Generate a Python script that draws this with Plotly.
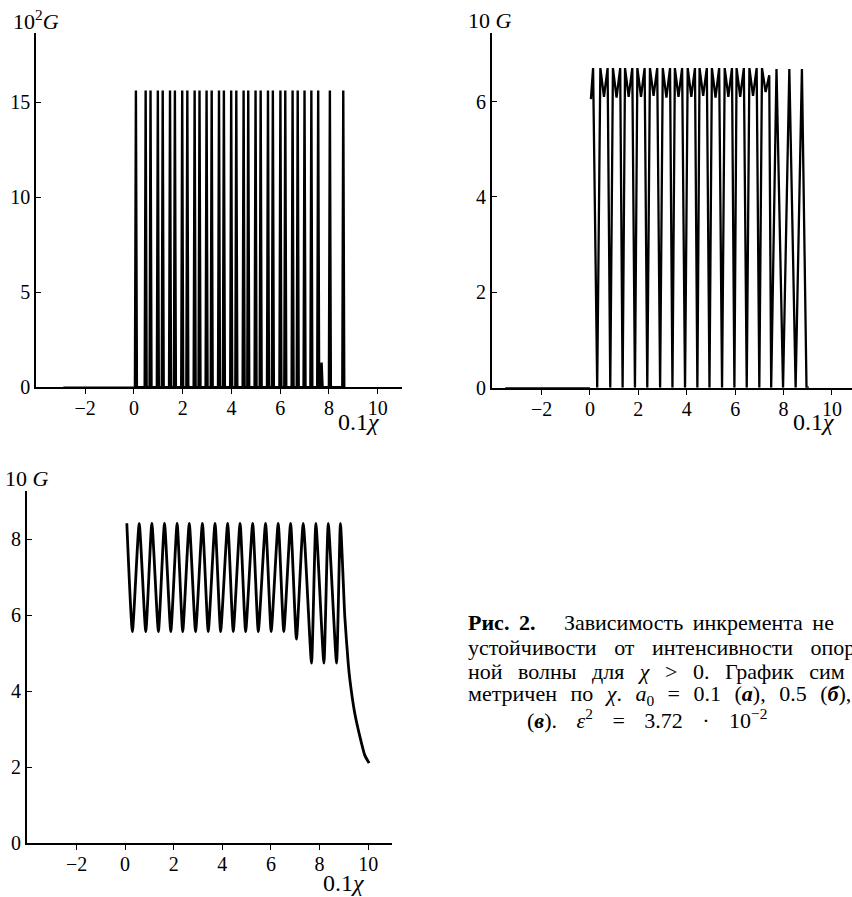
import plotly.graph_objects as go

# ---------------- data ----------------
# Panel (a): a0 = 0.1, axis units 10^2 G
a_flat_x = [-2.9, 0.0]
a_flat_g = [0.0, 0.0]
a_spike_x = [0.08, 0.48, 0.68, 0.98, 1.18, 1.48, 1.68, 1.98, 2.19, 2.49, 2.69,
             2.98, 3.19, 3.49, 3.69, 3.99, 4.20, 4.50, 4.69, 4.99, 5.20, 5.50,
             5.70, 6.01, 6.21, 6.51, 6.72, 7.00, 7.28, 7.56, 7.70, 8.04, 8.59]
a_spike_g = [15.6, 15.6, 15.6, 15.6, 15.6, 15.6, 15.6, 15.6, 15.6, 15.6, 15.6,
             15.6, 15.6, 15.6, 15.6, 15.6, 15.6, 15.6, 15.6, 15.6, 15.6, 15.6,
             15.6, 15.6, 15.6, 15.6, 15.6, 15.6, 15.6, 15.6, 1.3, 15.6, 15.6]

# Panel (b): a0 = 0.5, axis units 10 G
b_flat_x = [-3.5, 0.0]
b_flat_g = [0.0, 0.0]
b_start_x = [0.04, 0.13]
b_start_g = [6.05, 6.70]
b_trough_x = [0.30, 0.84, 1.35, 1.86, 2.37, 2.90, 3.41, 3.93, 4.44, 4.94, 5.46,
              5.97, 6.48, 7.00, 7.49, 7.98, 8.50, 8.95]
b_hump_x = [0.58, 1.10, 1.60, 2.11, 2.63, 3.16, 3.66, 4.19, 4.68, 5.19, 5.72,
            6.21, 6.74, 7.26, 7.71, 8.24, 8.76]
b_peak_left = [6.70, 6.70, 6.70, 6.70, 6.70, 6.70, 6.70, 6.70, 6.70, 6.70, 6.70,
               6.70, 6.70, 6.70, 6.68, 6.68, 6.68]
b_dip = [6.10, 6.08, 6.10, 6.10, 6.12, 6.08, 6.10, 6.10, 6.12, 6.08, 6.10,
         6.10, 6.12, 6.20, None, None, None]
b_peak_right = [6.70, 6.70, 6.70, 6.70, 6.70, 6.70, 6.70, 6.70, 6.70, 6.70, 6.70,
                6.70, 6.70, 6.55, None, None, None]
b_end_x = [9.05]
b_end_g = [0.0]

# Panel (c): a0 = 1, axis units 10 G
c_peak_x = [0.07, 0.58, 1.10, 1.62, 2.14, 2.64, 3.18, 3.70, 4.22, 4.73, 5.25,
            5.78, 6.30, 6.81, 7.33, 7.85, 8.36, 8.86]
c_peak_g = [8.42, 8.42, 8.42, 8.42, 8.42, 8.42, 8.42, 8.42, 8.42, 8.42, 8.42,
            8.42, 8.42, 8.42, 8.42, 8.42, 8.42, 8.42]
c_trough_x = [0.30, 0.85, 1.37, 1.88, 2.37, 2.90, 3.42, 3.93, 4.45, 4.96, 5.48,
              6.01, 6.53, 7.05, 7.67, 8.18, 8.70]
c_trough_g = [5.57, 5.57, 5.57, 5.57, 5.57, 5.57, 5.57, 5.57, 5.57, 5.57, 5.57,
              5.57, 5.57, 5.37, 4.74, 4.74, 4.74]
c_tail_x = [9.04, 9.18, 9.25, 9.45, 9.66, 9.86, 10.04]
c_tail_g = [5.96, 4.74, 4.30, 3.42, 2.81, 2.32, 2.11]

x_ticks = [-2, 0, 2, 4, 6, 8, 10]
a_yticks = [0, 5, 10, 15]
b_yticks = [0, 2, 4, 6]
c_yticks = [0, 2, 4, 6, 8]

caption = [
    "<b>Рис. 2.</b>\u00a0\u00a0 Зависимость инкремента не",
    "устойчивости от интенсивности опор",
    "ной волны для <i>χ</i> > 0. График сим",
    "метричен по <i>χ</i>. <i>a</i><sub>0</sub> = 0.1 (<b><i>а</i></b>), 0.5 (<b><i>б</i></b>),",
    "(<b><i>в</i></b>). <i>ε</i><sup>2</sup> = 3.72 · 10<sup>−2</sup>",
]
caption_word_gap = [4, 12, 10, 8, 14]

# ---------------- build polylines ----------------
SPIKE_HALF = 0.04
ax, ag = [], []
for x, g in zip(a_spike_x, a_spike_g):
    ax += [x - SPIKE_HALF, x, x + SPIKE_HALF]
    ag += [0.0, g, 0.0]

M_HALF = 0.15
bx, bg = list(b_start_x), list(b_start_g)
for i, c in enumerate(b_hump_x):
    bx.append(b_trough_x[i]); bg.append(0.0)
    if b_dip[i] is None:
        bx.append(c); bg.append(b_peak_left[i])
    else:
        bx += [c - M_HALF, c, c + M_HALF]
        bg += [b_peak_left[i], b_dip[i], b_peak_right[i]]
bx.append(b_trough_x[-1]); bg.append(0.0)
bx += b_end_x; bg += b_end_g

cx, cg = [], []
for i, p in enumerate(c_peak_x):
    cx.append(p); cg.append(c_peak_g[i])
    if i < len(c_trough_x):
        cx.append(c_trough_x[i]); cg.append(c_trough_g[i])
cx += c_tail_x; cg += c_tail_g

# ---------------- figure ----------------
W, H = 852, 897
FONT = "Liberation Serif"
fig = go.Figure()
line_a = dict(color="black", width=2.4)
fig.add_trace(go.Scatter(x=a_flat_x, y=a_flat_g, mode="lines", line=dict(color="black", width=1.6), xaxis="x", yaxis="y"))
fig.add_trace(go.Scatter(x=ax, y=ag, mode="lines", line=line_a, xaxis="x", yaxis="y"))
fig.add_trace(go.Scatter(x=b_flat_x, y=b_flat_g, mode="lines", line=dict(color="black", width=1.6), xaxis="x2", yaxis="y2"))
fig.add_trace(go.Scatter(x=bx, y=bg, mode="lines", line=dict(color="black", width=2.3), xaxis="x2", yaxis="y2"))
fig.add_trace(go.Scatter(x=cx, y=cg, mode="lines", line=dict(color="black", width=2.8, shape="spline", smoothing=0.5), xaxis="x3", yaxis="y3"))


def px_x(p):
    return p / W


def px_y(p):
    return 1 - p / H


xcommon = dict(showline=True, linecolor="black", linewidth=1.6, showgrid=False, zeroline=False,
               ticks="outside", ticklen=5, tickwidth=1.4, tickcolor="black", tickvals=x_ticks,
               ticklabelstandoff=-3, automargin=False,
               tickfont=dict(family=FONT, size=20, color="black"), fixedrange=True)
ycommon = dict(showline=True, linecolor="black", linewidth=1.6, showgrid=False, zeroline=False,
               ticks="inside", ticklen=5, tickwidth=1.4, tickcolor="black", automargin=False,
               tickfont=dict(family=FONT, size=20, color="black"), fixedrange=True)

fig.update_layout(
    width=W, height=H, margin=dict(l=0, r=0, t=0, b=0),
    paper_bgcolor="white", plot_bgcolor="white", showlegend=False,
    xaxis=dict(xcommon, domain=[px_x(36), px_x(402)], range=[-4.02, 11.0], anchor="y"),
    yaxis=dict(ycommon, domain=[px_y(387.3), px_y(33)], range=[0, 18.63], tickvals=a_yticks, anchor="x"),
    xaxis2=dict(xcommon, domain=[px_x(491.7), 1.0], range=[-4.06, 10.83], anchor="y2"),
    yaxis2=dict(ycommon, domain=[px_y(387.7), px_y(33.3)], range=[0, 7.43], tickvals=b_yticks, anchor="x2"),
    xaxis3=dict(xcommon, domain=[px_x(26.7), px_x(391.7)], range=[-4.05, 10.97], anchor="y3"),
    yaxis3=dict(ycommon, domain=[px_y(843.3), px_y(491)], range=[0, 9.27], tickvals=c_yticks, anchor="x3"),
)

lab_font = dict(family=FONT, size=22, color="black")
chi_font = dict(family=FONT, size=24, color="black")
cap_font = dict(family=FONT, size=22, color="black")
anns = [
    dict(text="10<sup>2</sup><i>G</i>", x=px_x(11), y=px_y(20), xanchor="left", yanchor="middle", font=lab_font),
    dict(text="10 <i>G</i>", x=px_x(466), y=px_y(20), xanchor="left", yanchor="middle", font=lab_font),
    dict(text="10 <i>G</i>", x=px_x(3), y=px_y(478), xanchor="left", yanchor="middle", font=lab_font),
    dict(text="0.1<i>χ</i>", x=px_x(359), y=px_y(422), xanchor="center", yanchor="middle", font=chi_font),
    dict(text="0.1<i>χ</i>", x=px_x(814), y=px_y(422), xanchor="center", yanchor="middle", font=chi_font),
    dict(text="0.1<i>χ</i>", x=px_x(344), y=px_y(883), xanchor="center", yanchor="middle", font=chi_font),
]
cap_y = [622, 647, 671, 695, 719]
cap_x = [466, 466, 466, 466, 525]
for t, yy, xx, gap in zip(caption, cap_y, cap_x, caption_word_gap):
    styled = '<span style="word-spacing:%dpx">%s</span>' % (gap, t)
    anns.append(dict(text=styled, x=px_x(xx), y=px_y(yy), xanchor="left", yanchor="middle", font=cap_font))
for a in anns:
    a.update(xref="paper", yref="paper", showarrow=False)
fig.update_layout(annotations=anns)

fig.write_html("out.html", config={"displayModeBar": False},
               post_script="document.body.style.margin='0';document.body.style.overflow='hidden';")
